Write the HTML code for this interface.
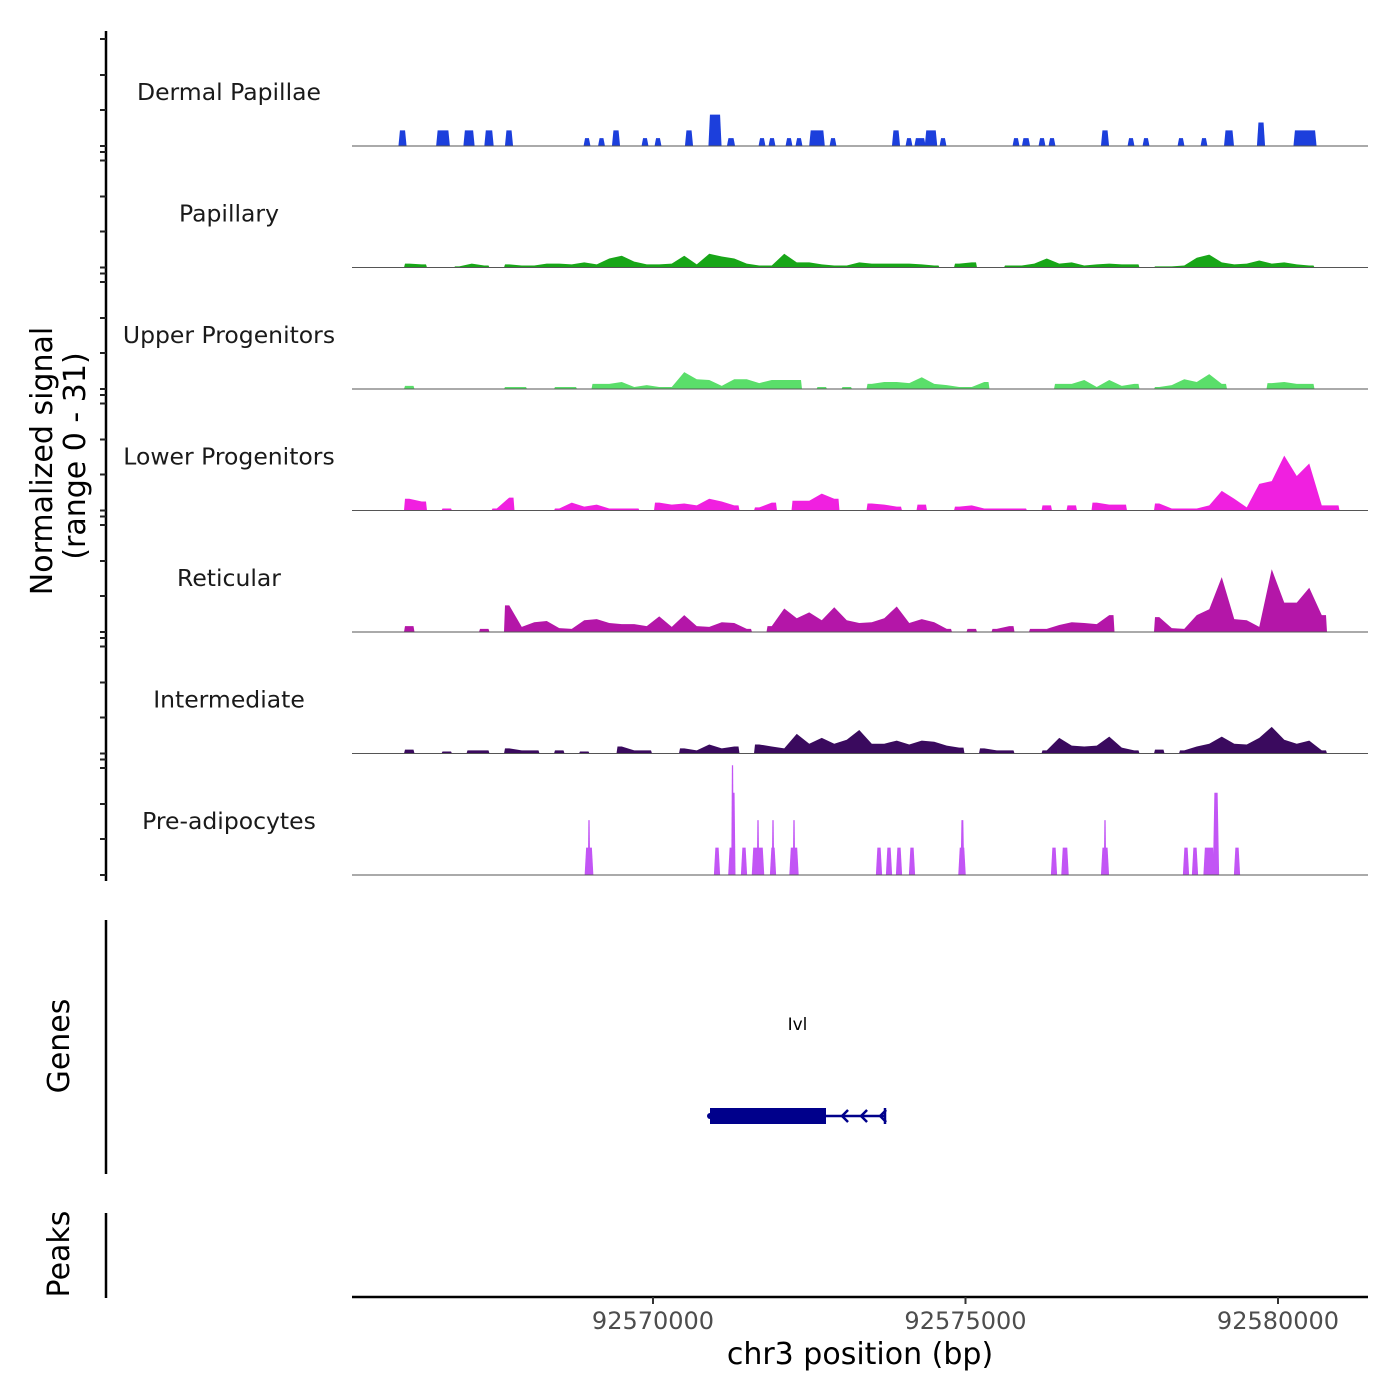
<!DOCTYPE html>
<html><head><meta charset="utf-8">
<style>
html,body{margin:0;padding:0;background:#fff;}
svg{display:block;font-family:"DejaVu Sans","Liberation Sans",sans-serif;}
</style></head>
<body>
<svg id="chart" width="1400" height="1400" viewBox="0 0 1400 1400" xmlns="http://www.w3.org/2000/svg">
  <rect width="1400" height="1400" fill="#fff"/>
  <g id="tracks"></g>
  <g id="yaxis"></g>
  <text transform="translate(52,461) rotate(-90)" text-anchor="middle" font-size="30" fill="#000">Normalized signal</text>
  <text transform="translate(85,456) rotate(-90)" text-anchor="middle" font-size="30" fill="#000">(range 0 - 31)</text>
  <g id="genes"></g>
  <line x1="106" y1="920" x2="106" y2="1174" stroke="#000" stroke-width="2.5"/>
  <text transform="translate(69,1046) rotate(-90)" text-anchor="middle" font-size="30" fill="#000">Genes</text>
  <line x1="106" y1="1213" x2="106" y2="1298" stroke="#000" stroke-width="2.5"/>
  <text transform="translate(69,1254) rotate(-90)" text-anchor="middle" font-size="30" fill="#000">Peaks</text>
  <g id="xaxis"></g>
  <text x="860" y="1364" text-anchor="middle" font-size="30" fill="#000">chr3 position (bp)</text>
</svg>
<script>
// ---------- data ----------
const regionStart = 92565184;
const regionEnd = 92581440;
const yMax = 31;
const xTicks = [92570000, 92575000, 92580000];
const xTickLabels = ["92570000", "92575000", "92580000"];
const trackNames = ["Dermal Papillae","Papillary","Upper Progenitors","Lower Progenitors","Reticular","Intermediate","Pre-adipocytes"];
const trackColors = ["#1c3fdc","#18a618","#5ade6a","#f020e0","#b416a8","#3a0a5e","#c255f5"];
const binStart = 92565200;
const binSize = 200;
// peak-style tracks: centers (bp), widths (bp), heights (signal)
const dermalCenters = [92565992,92566640,92567056,92567376,92567696,92568944,92569176,92569408,92569872,92570080,92570576,92570992,92571248,92571744,92571904,92572176,92572336,92572624,92572880,92573888,92574096,92574272,92574448,92574640,92575808,92575968,92576224,92576384,92577232,92577648,92577888,92578448,92578816,92579216,92579728,92580432];
const dermalWidths = [130,220,180,150,130,110,110,130,110,110,130,210,130,110,110,110,110,250,110,130,110,180,200,110,110,130,110,110,130,110,110,110,110,160,130,370];
const dermalHeights = [4,4,4,4,4,2,2,4,2,2,4,8,2,2,2,2,2,4,2,4,2,2,4,2,2,2,2,2,4,2,2,2,2,4,6,4];
const preCenters = [92568976,92568976,92571024,92571248,92571272,92571290,92571456,92571680,92571680,92571920,92571920,92572256,92572256,92573616,92573776,92573936,92574144,92574944,92574950,92576416,92576592,92577232,92577232,92578528,92578672,92578896,92579008,92579344];
const preWidths = [140,40,100,90,40,60,100,200,40,100,40,150,40,100,100,100,100,120,60,100,120,130,40,100,100,180,100,100];
const preHeights = [7,14,7,7,28,21,7,7,14,7,14,7,14,7,7,7,7,7,14,7,7,7,14,7,7,7,21,7];
// binned tracks (200 bp bins)
const papillaryBins = [0,0,0,0,1,.8,0,0,.3,1, .5,0,.8,.5,.5,1,1,.8,1.3,.8, 2.3,3,1.5,.8,.8,1,3,.8,3.5,2.8, 2.3,1,.5,.5,3.5,1.3,1.3,.8,.5,.5, 1.3,1,1,1,1,.8,.5,0,1,1.3, 0,0,.5,.5,1,2.3,1,1.3,.5,.8, 1,.8,.8,0,.3,.3,.5,2.5,3.3,1.3, .8,1,1.8,1,1.3,.8,.5,0,0,0];
const upperBins = [0,0,0,0,.8,0,0,0,0,0, 0,0,.5,.5,0,0,.5,.5,0,1.3, 1.3,1.8,.5,1,.5,.5,4.3,2.5,2.3,.8, 2.5,2.5,1.5,2.3,2.3,2.3,0,.5,0,.5, 0,1.3,1.8,1.8,1.5,3,1.3,1,.5,.5, 1.8,0,0,0,0,0,1.3,1.3,2.3,.5, 2.3,.8,1.3,0,.5,1,2.5,1.8,3.8,1.3, 0,0,0,1.5,1.8,1.3,1.3,0,0,0];
const lowerBins = [0,0,0,0,3,2.3,0,.5,0,0, 0,.5,3.3,0,0,0,.5,2,1,1.5, .5,.5,.5,0,2,1.5,1.8,1.3,3,2.3, 1.3,0,.8,2,0,2.5,2.5,4.3,3,0, 0,1.8,1.5,1,0,1.5,0,0,1,1.3, .5,.5,.5,.5,0,1.3,0,1.3,0,2, 1.5,1.5,0,0,1.8,.5,.5,.5,1.3,5, 3,.8,6.8,7.5,14,8.8,12,1.3,1.3,0];
const reticularBins = [0,0,0,0,1.5,0,0,0,0,0, .8,0,6.8,1.3,2.5,2.8,1,.8,3,3.3, 2.3,2,2,1.5,4,1.3,4.3,1.5,1.3,2.5, 2.3,.8,0,1.5,6,3.5,5,3,6.3,3, 2.3,2.5,3.5,6.5,2.3,3.3,2.5,.8,0,.8, 0,.8,1.5,0,.8,.8,1.8,2.5,2.3,2, 4.3,0,0,0,3.8,1,.8,4.3,5.8,14, 3.3,3,1.3,16,7.5,7.5,11.3,4.3,0,0];
const intermediateBins = [0,0,0,0,1,0,0,.5,0,.8, .8,0,1.3,.8,.8,0,.8,0,.5,0, 0,1.8,.8,.8,0,0,1.3,.8,2.3,1.3, 1.8,0,2.3,1.8,1.3,5,2.5,4,2.5,3.5, 6,2.5,2.5,3.3,2.3,3.3,3,2,1.5,0, 1.3,.8,.8,0,0,.8,4,2,1.8,2, 4.3,1.5,.8,0,1,0,.8,1.8,2.5,4.3, 2.5,2.3,4,6.8,3.5,2.5,3.3,.8,0,0];
// gene
const geneName = "Ivl";
const geneStart = 92570912;
const geneCdsEnd = 92572768;
const geneEnd = 92573712;

// ---------- layout ----------
const NS = "http://www.w3.org/2000/svg";
const X0 = 352, X1 = 1368;
const firstBase = 146, panelH = 121.5;
const pxPerUnit = panelH / yMax;
function xScale(bp){ return X0 + (bp - regionStart) / (regionEnd - regionStart) * (X1 - X0); }
function yScale(v, i){ return firstBase + panelH * i - v * pxPerUnit; }
function mk(tag, attrs, parent){ const e = document.createElementNS(NS, tag); for (const k in attrs) e.setAttribute(k, attrs[k]); parent.appendChild(e); return e; }

const tracks = document.getElementById("tracks");
const binned = {1: papillaryBins, 2: upperBins, 3: lowerBins, 4: reticularBins, 5: intermediateBins};

for (let i = 0; i < trackNames.length; i++) {
  const g = mk("g", {}, tracks);
  
  
  const base = yScale(0, i);
  const lbl = mk("text", {x: 229, y: base - 46, "text-anchor": "middle", "font-size": 23.5, fill: "#1a1a1a"}, g);
  lbl.textContent = trackNames[i];
  
  

  if (binned[i]) {
    const vals = binned[i];
    let d = "M" + xScale(binStart).toFixed(2) + "," + base;
    for (let k = 0; k < vals.length; k++) {
      const xa = xScale(binStart + k * binSize), xb = xScale(binStart + (k + 1) * binSize);
      const xm = (xa + xb) / 2;
      const y = yScale(vals[k], i);
      if (vals[k] === 0) {
        d += " L" + xa.toFixed(2) + "," + base + " L" + xb.toFixed(2) + "," + base;
      } else {
        const prevZero = k === 0 || vals[k - 1] === 0;
        const nextZero = k === vals.length - 1 || vals[k + 1] === 0;
        if (prevZero) d += " L" + (xa + 1).toFixed(2) + "," + base + " L" + (xa + 2).toFixed(2) + "," + y.toFixed(2);
        d += " L" + xm.toFixed(2) + "," + y.toFixed(2);
        if (nextZero) d += " L" + (xb - 2).toFixed(2) + "," + y.toFixed(2) + " L" + (xb - 1).toFixed(2) + "," + base;
      }
    }
    d += " L" + xScale(binStart + vals.length * binSize).toFixed(2) + "," + base + " Z";
    const p = mk("path", {d: d, fill: trackColors[i]}, g);
    
    
  } else {
    const C = i === 0 ? dermalCenters : preCenters;
    const W = i === 0 ? dermalWidths : preWidths;
    const H = i === 0 ? dermalHeights : preHeights;
    for (let k = 0; k < C.length; k++) {
      const xa = xScale(C[k] - W[k] / 2), xb = xScale(C[k] + W[k] / 2);
      const sl = Math.min(1.5, (xb - xa) / 4);
      const y = yScale(H[k], i);
      const pts = xa + "," + base + " " + (xa + sl) + "," + y + " " + (xb - sl) + "," + y + " " + xb + "," + base;
      const p = mk("polygon", {points: pts, fill: trackColors[i]}, g);
      
      
    }
  }
  const bl = mk("line", {x1: X0, x2: X1, y1: base, y2: base, stroke: "#555", "stroke-width": 1}, g);
  
  
}

// left y axis
const ya = document.getElementById("yaxis");
const yl = mk("line", {x1: 106, x2: 106, y1: 31, y2: 881, stroke: "#000", "stroke-width": 2.5}, ya);


const tickOffsets = [6, 0, -36, -71, -107];
for (let i = 0; i < trackNames.length; i++) {
  for (const o of tickOffsets) {
    const y = yScale(0, i) + o;
    if (i === trackNames.length - 1 && o > 0) continue;
    const t = mk("line", {x1: 100, x2: 106, y1: y, y2: y, stroke: "#222", "stroke-width": 2}, ya);
    
    
  }
}

// gene track
const gg = document.getElementById("genes");
const gx0 = xScale(geneStart), gx1 = xScale(geneCdsEnd), gx2 = xScale(geneEnd);
const gy = 1116;
const gl = mk("line", {x1: gx0, x2: gx2, y1: gy, y2: gy, stroke: "#00008b", "stroke-width": 2.5}, gg);


const gb = mk("rect", {x: gx0, y: gy - 8, width: gx1 - gx0, height: 16, fill: "#00008b"}, gg);


const gc = mk("circle", {cx: gx0, cy: gy, r: 3, fill: "#00008b"}, gg);


const ge = mk("line", {x1: gx2, x2: gx2, y1: gy - 8, y2: gy + 8, stroke: "#00008b", "stroke-width": 2.5}, gg);


for (let k = 1; k <= 3; k++) {
  const ax = gx1 + (gx2 - gx1) * (k / 3.1) - 2;
  const a = mk("polyline", {points: (ax + 5) + "," + (gy - 6) + " " + (ax - 1) + "," + gy + " " + (ax + 5) + "," + (gy + 6), fill: "none", stroke: "#00008b", "stroke-width": 2.5}, gg);
  
  
}
const gt = mk("text", {x: (gx0 + gx2) / 2, y: 1030, "text-anchor": "middle", "font-size": 17, fill: "#000"}, gg);
gt.textContent = geneName;



// x axis
const xa = document.getElementById("xaxis");
const xl = mk("line", {x1: X0, x2: X1, y1: 1297, y2: 1297, stroke: "#000", "stroke-width": 2.5}, xa);


for (let k = 0; k < xTicks.length; k++) {
  const x = xScale(xTicks[k]);
  const t = mk("line", {x1: x, x2: x, y1: 1297, y2: 1304, stroke: "#333", "stroke-width": 2}, xa);
  
  
  const l = mk("text", {x: x, y: 1329, "text-anchor": "middle", "font-size": 24, fill: "#4d4d4d"}, xa);
  l.textContent = xTickLabels[k];
  
  
}
</script>
</body></html>
